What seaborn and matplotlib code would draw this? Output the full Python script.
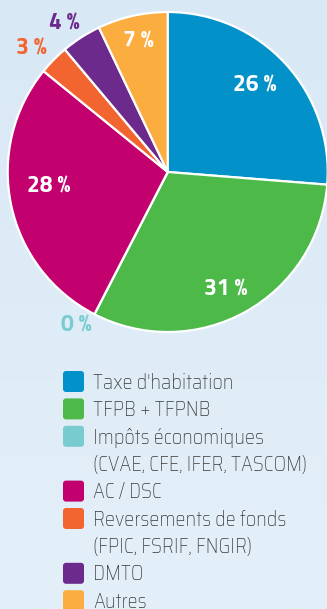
import numpy as np
import matplotlib
matplotlib.use("Agg")
import matplotlib.pyplot as plt
from matplotlib import font_manager as fm
from matplotlib.colors import LinearSegmentedColormap
from matplotlib.patches import FancyBboxPatch
import seaborn as sns

# Revenue breakdown (percent of total)
categories = [
    "Taxe d'habitation",
    "TFPB + TFPNB",
    "Impôts économiques\n(CVAE, CFE, IFER, TASCOM)",
    "AC / DSC",
    "Reversements de fonds\n(FPIC, FSRIF, FNGIR)",
    "DMTO",
    "Autres",
]
shares = [26, 31, 0, 28, 3, 4, 7]
pct_labels = [f"{v} %" for v in shares]
palette = ["#0291c9", "#4db949", "#78ccd0", "#c2006e", "#f26430", "#6c2b8c", "#fbad40"]

# label placement: radius (fraction of pie radius), angular nudge (deg), inside or outside
label_radius = [0.765, 0.82, 1.12, 0.75, 1.15, 1.13, 0.835]
label_nudge = [2.0, -3.0, -3.4, -4.8, 2.5, 2.3, 0.0]
label_inside = [True, True, False, True, False, False, True]

sns.set_theme(style="white")
plt.rcParams["font.family"] = ["DejaVu Sans"]


def first_bold(candidates):
    """Pick the first family that ships a real bold face."""
    for fam in candidates:
        if any(f.name == fam and int(f.weight) >= 700 for f in fm.fontManager.ttflist):
            return fam
    return "DejaVu Sans"


label_font = [first_bold(["Titillium Web", "Rajdhani", "Roboto"]), "DejaVu Sans"]
legend_font = ["Saira SemiCondensed", "DejaVu Sans"]

W, H = 327, 609
fig = plt.figure(figsize=(W / 100, H / 100), dpi=100)

# soft vertical background gradient
bg = fig.add_axes([0, 0, 1, 1], zorder=0)
grad = np.linspace(0, 1, 256).reshape(-1, 1)
bg.imshow(grad, aspect="auto", extent=[0, 1, 0, 1], origin="upper",
          cmap=LinearSegmentedColormap.from_list("bgc", ["#d8e8f5", "#e4f0f9"]))
bg.axis("off")

# pie
cx, cy, R = 167.7, 172.0, 160.0
ax = fig.add_axes([(cx - R) / W, (H - cy - R) / H, 2 * R / W, 2 * R / H], zorder=1)
wedges, _ = ax.pie(shares, colors=palette, startangle=90, counterclock=False,
                   wedgeprops=dict(edgecolor="white", linewidth=1.6))
ax.set_xlim(-1, 1)
ax.set_ylim(-1, 1)
ax.set_aspect("equal")
ax.axis("off")

for w, txt, r, nudge, inside, col in zip(wedges, pct_labels, label_radius,
                                         label_nudge, label_inside, palette):
    mid = np.deg2rad((w.theta1 + w.theta2) / 2 + nudge)
    ax.text(r * np.cos(mid), r * np.sin(mid), txt, ha="center", va="center",
            fontsize=16.5, fontweight="bold", family=label_font,
            color="white" if inside else col, clip_on=False)

# legend, laid out in pixel units
lg = fig.add_axes([0, 0, 1, 1], zorder=2)
lg.set_xlim(0, W)
lg.set_ylim(H, 0)
lg.axis("off")

row0, step = 381.5, 27.4
box_x, box_s, text_x = 63, 21, 93
line = 0
for name, col in zip(categories, palette):
    yc = row0 + line * step
    lg.add_patch(FancyBboxPatch((box_x, yc - box_s / 2), box_s, box_s,
                                boxstyle="round,pad=0,rounding_size=3",
                                facecolor=col, edgecolor="none"))
    for part in name.split("\n"):
        y = row0 + line * step
        lg.text(text_x, y + 7.2, part, ha="left", va="baseline",
                fontsize=14.5, fontweight="light", color="#3a3a3a", family=legend_font)
        line += 1

fig.savefig("out.png", dpi=100)
